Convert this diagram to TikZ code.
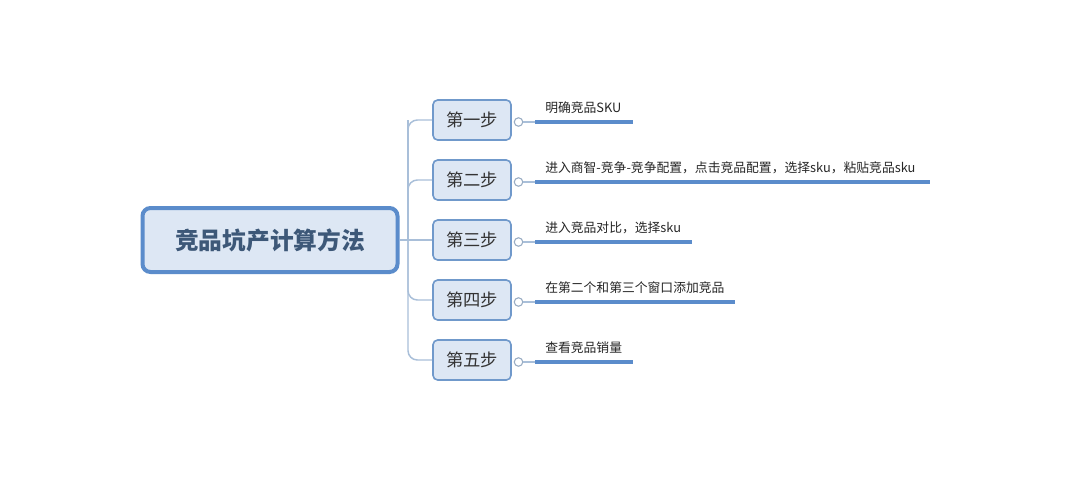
\documentclass[tikz,border=0pt]{standalone}
\usepackage{fontspec}
\setmainfont{Noto Sans CJK SC}
\newfontfamily\cjk{Noto Sans CJK SC}
\definecolor{mainborder}{HTML}{5B8CCB}
\definecolor{mainfill}{HTML}{DDE7F4}
\definecolor{maintext}{HTML}{3D5878}
\definecolor{stepborder}{HTML}{7099CB}
\definecolor{trunk}{HTML}{A9BFD9}
\definecolor{uline}{HTML}{5B8CCB}
\begin{document}
\begin{tikzpicture}[x=0.75pt,y=-0.75pt,
  mainbox/.style={draw=mainborder,line width=3pt,fill=mainfill,rounded corners=6pt,minimum width=255*0.75pt,minimum height=64*0.75pt,inner sep=0pt,font=\cjk\fontsize{17.8}{20}\selectfont\bfseries,text=maintext},
  stepbox/.style={draw=stepborder,line width=1.2pt,fill=mainfill,rounded corners=3.5pt,minimum width=78*0.75pt,minimum height=40*0.75pt,inner sep=0pt,font=\cjk\fontsize{13}{15}\selectfont,text=black!80},
  branch/.style={draw=trunk,line width=1.1pt,rounded corners=7pt},
  knob/.style={circle,draw=trunk!90!black,fill=white,line width=0.8pt,minimum size=8.5*0.75pt,inner sep=0pt},
  uline/.style={draw=uline,line width=2.3pt},
  label/.style={font=\cjk\fontsize{9.6}{11}\selectfont,text=black!85,anchor=base west,inner sep=0pt}
]
\useasboundingbox (0,0) rectangle (1080,490);
\fill[white] (0,0) rectangle (1080,490);
\node[mainbox] (main) at (270,240) {竞品坑产计算方法};
\foreach \i/\t/\y/\e/\l in {1/第一步/120/633/明确竞品SKU,
  2/第二步/180/930/{进入商智-竞争-竞争配置，点击竞品配置，选择sku，粘贴竞品sku},
  3/第三步/240/692/{进入竞品对比，选择sku},
  4/第四步/300/735/在第二个和第三个窗口添加竞品,
  5/第五步/360/633/查看竞品销量}{
  \node[stepbox] (s\i) at (472,\y) {\t};
  \coordinate (j\i) at (408,\y);
  \node[knob] (k\i) at (518.5,\y+2) {};
  \coordinate (ua\i) at (535,\y+2);
  \coordinate (ub\i) at (\e,\y+2);
  \draw[draw=trunk,line width=0.8pt] (k\i.east) -- (ua\i);
  \draw[uline] (ua\i) -- (ub\i);
  \node[label] (t\i) at (545,\y-8) {\l};
}
\coordinate (jm) at (408,240);
\draw[branch] (main.east) -- (jm);
\draw[branch] (s1.west) -- (j1) -- (j5) -- (s5.west);
\draw[branch] (j1) -- (jm);
\draw[branch] (jm) -- (s3.west);
\draw[branch] (jm) |- (s2.west);
\draw[branch] (jm) |- (s4.west);
\end{tikzpicture}
\end{document}
